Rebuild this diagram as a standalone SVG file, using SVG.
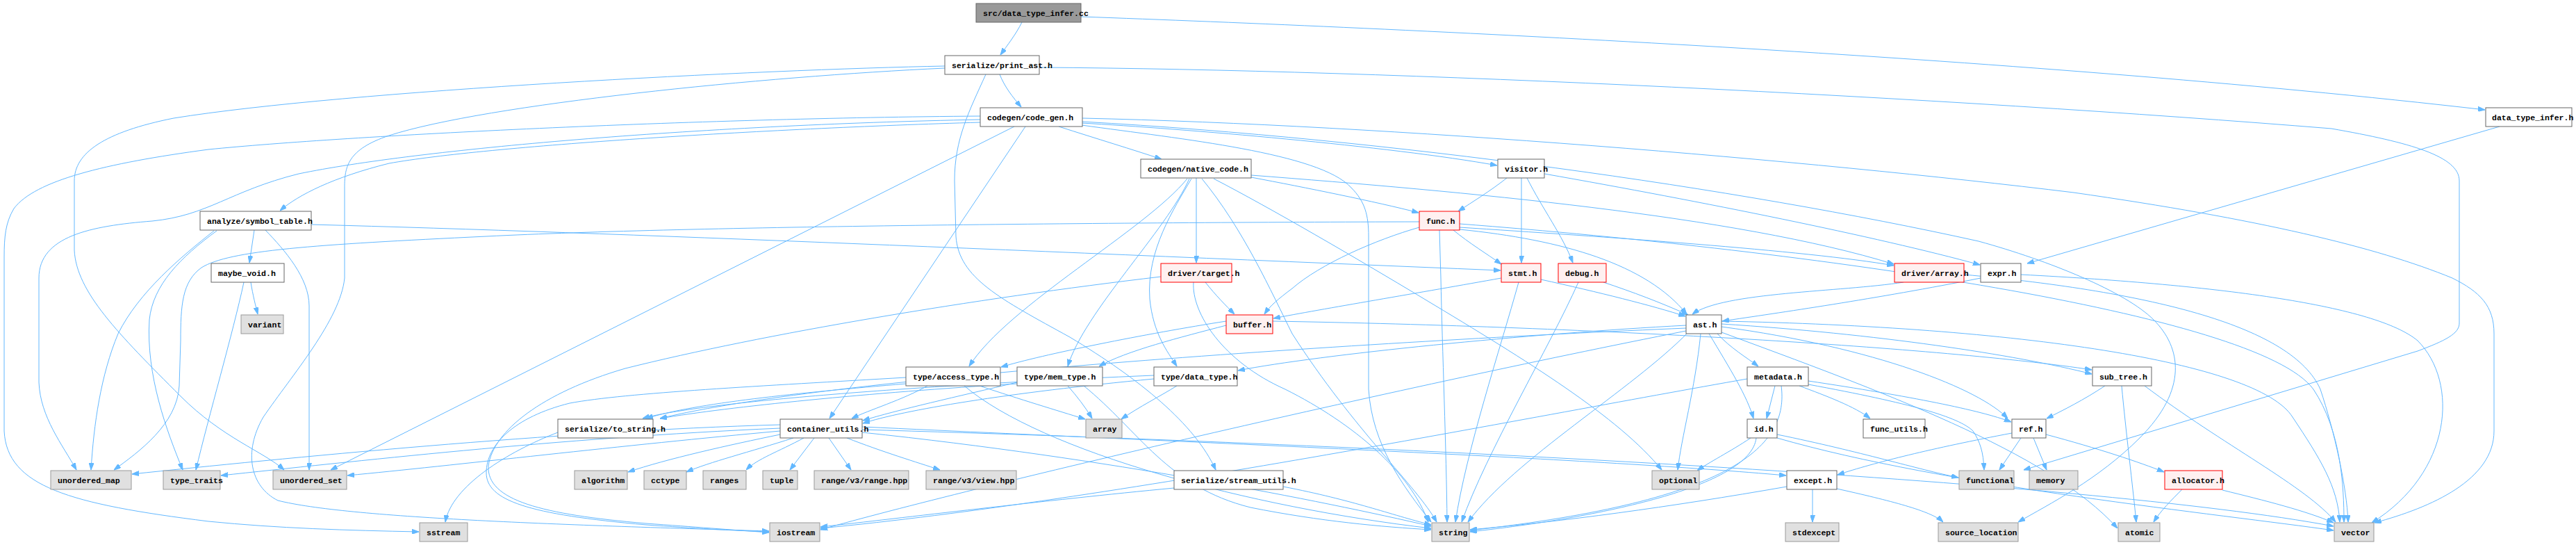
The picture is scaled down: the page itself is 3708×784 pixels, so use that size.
<svg xmlns="http://www.w3.org/2000/svg" width="3708" height="784" viewBox="0 0 3708 784">
<style>
.n rect{stroke-width:1}
.w rect{fill:#ffffff;stroke:#666666}
.g rect{fill:#e0e0e0;stroke:#999999}
.r rect{fill:#fff0f0;stroke:#ff0000}
.root rect{fill:#999999;stroke:#666666}
.n text{font-family:"Liberation Mono","DejaVu Sans Mono",monospace;font-size:11.5px;font-weight:bold;fill:#000000}
.e path{fill:none;stroke:#63b8ff;stroke-width:1;marker-end:url(#ah)}
</style>
<defs>
<marker id="ah" viewBox="0 0 10 7" markerWidth="10" markerHeight="7" refX="10" refY="3.5" orient="auto" markerUnits="userSpaceOnUse">
<path d="M0,0 L10,3.5 L0,7 Z" fill="#63b8ff" stroke="#63b8ff" stroke-width="1"/>
</marker>
</defs>
<rect width="3708" height="784" fill="#ffffff"/>
<g id="edges" class="e">
<path d="M1471,32 C1462,50 1450,65 1440,79"/>
<path d="M1556,24 C2000,40 2900,80 3577,158"/>
<path d="M1439,107 C1446,125 1458,140 1470,154"/>
<path d="M1360,95 C1100,100 500,130 250,170 C150,190 107,220 107,260 L107,360 C110,420 170,480 260,570 C320,630 380,650 409,676"/>
<path d="M1360,98 C1100,110 700,150 560,195 C500,215 496,240 496,270 L496,400 C490,460 420,540 379,600 C350,650 360,700 400,720 C500,745 800,755 1107,764"/>
<path d="M1419,107 C1395,160 1374,200 1374,260 L1376,340 C1380,400 1440,430 1540,485 C1640,545 1720,610 1750,676"/>
<path d="M1496,97 C2000,100 2800,140 3356,185 C3470,205 3540,225 3540,260 L3540,465 C3540,480 3520,490 3480,505 L2913,676"/>
<path d="M1524,182 C1580,200 1630,215 1672,229"/>
<path d="M1411,176 C1100,185 700,210 560,235 C480,255 430,280 403,303"/>
<path d="M1411,172 C1000,180 600,215 430,250 C330,275 300,310 219,318 C130,325 56,340 56,400 L56,550 C58,600 90,640 110,676"/>
<path d="M1411,167 C1000,170 500,195 300,215 C150,235 50,260 20,300 C8,320 6,340 6,370 L6,620 C10,700 100,725 300,750 C400,760 500,763 603,765"/>
<path d="M1460,182 L476,676"/>
<path d="M1476,182 L1194,602"/>
<path d="M1557,177 C1700,185 2000,210 2155,238"/>
<path d="M1558,170 C2000,180 2600,230 2985,277 C3250,315 3420,355 3530,400 C3570,420 3590,440 3590,480 L3590,620 C3590,690 3500,730 3418,752"/>
<path d="M1557,180 C1700,200 1900,220 1945,270 C1965,290 1970,310 1970,340 L1970,560 C1975,640 2020,700 2060,751"/>
<path d="M1558,175 C2000,200 2500,270 2848,347 C2950,375 3060,420 3100,460 C3140,500 3150,560 3080,630 C3020,690 2950,725 2905,751"/>
<path d="M1722,256 L1722,378"/>
<path d="M1709,257 C1650,330 1450,440 1395,527"/>
<path d="M1712,257 C1680,330 1560,450 1537,527"/>
<path d="M1715,257 C1690,300 1650,360 1655,430 C1660,480 1680,505 1694,527"/>
<path d="M1801,255 C1880,270 1980,290 2042,306"/>
<path d="M1801,252 C2100,275 2500,310 2726,380"/>
<path d="M1747,257 C1830,300 1950,370 2050,430 C2200,520 2330,600 2392,676"/>
<path d="M1730,257 C1790,330 1830,420 1860,480 C1950,620 2040,700 2068,751"/>
<path d="M2169,256 C2145,275 2120,290 2099,304"/>
<path d="M2190,256 L2190,378"/>
<path d="M2198,256 C2220,300 2250,340 2264,378"/>
<path d="M2223,250 C2450,290 2700,340 2850,381"/>
<path d="M366,331 L359,378"/>
<path d="M308,332 C260,370 200,420 170,480 C145,540 135,610 131,676"/>
<path d="M312,332 C260,370 220,410 215,460 C210,540 240,620 263,676"/>
<path d="M382,331 C410,360 445,400 445,440 L445,676"/>
<path d="M448,323 C900,335 1500,362 2160,389"/>
<path d="M2043,319 C1600,320 1000,325 700,340 C450,352 330,360 290,385 C262,405 260,440 260,490 L258,555 C255,610 200,650 164,676"/>
<path d="M2092,331 C2115,350 2140,365 2161,380"/>
<path d="M2043,327 C1980,345 1900,380 1860,415 C1840,430 1828,440 1820,452"/>
<path d="M2072,331 L2074,400 C2076,500 2082,650 2083,751"/>
<path d="M2101,327 C2300,340 2600,360 2726,382"/>
<path d="M2101,330 C2250,345 2370,380 2428,452"/>
<path d="M2101,322 C2600,360 3250,450 3330,560 C3370,620 3374,700 3374,751"/>
<path d="M361,406 C364,425 368,440 371,452"/>
<path d="M351,406 C335,480 300,600 282,676"/>
<path d="M1735,406 C1750,425 1765,440 1777,452"/>
<path d="M1671,398 C1400,430 1100,480 900,530 C780,565 710,620 703,670 C700,720 780,740 930,753 C1000,758 1050,762 1107,766"/>
<path d="M1718,406 C1715,450 1760,520 1850,560 C1950,610 2030,680 2056,751"/>
<path d="M2161,400 C2050,420 1900,445 1833,458"/>
<path d="M2218,402 C2300,420 2380,440 2426,455"/>
<path d="M2186,406 C2160,500 2110,650 2095,751"/>
<path d="M2308,406 C2350,420 2390,435 2430,453"/>
<path d="M2272,406 C2230,500 2140,650 2104,751"/>
<path d="M2740,406 C2650,420 2480,420 2436,452"/>
<path d="M2827,395 C3100,420 3300,470 3340,560 C3360,620 3378,700 3380,751"/>
<path d="M2851,400 C2700,430 2560,450 2479,462"/>
<path d="M2909,395 C3200,410 3420,440 3480,490 C3540,550 3530,680 3414,752"/>
<path d="M3598,182 L2918,379"/>
<path d="M1765,462 C1650,480 1500,510 1441,528"/>
<path d="M1765,468 C1700,485 1620,505 1582,527"/>
<path d="M1832,462 C2300,470 2800,500 3011,532"/>
<path d="M2472,480 C2490,500 2515,515 2531,527"/>
<path d="M2460,480 C2490,530 2515,570 2524,602"/>
<path d="M2448,480 C2440,560 2420,630 2415,676"/>
<path d="M2430,478 C2350,560 2180,660 2113,751"/>
<path d="M2427,468 C2200,480 1900,510 1782,533"/>
<path d="M2427,472 C2000,490 1200,540 950,602"/>
<path d="M2478,470 C2700,500 2850,560 2890,602"/>
<path d="M2478,466 C2700,480 2900,510 3011,538"/>
<path d="M2478,462 C2900,470 3250,520 3300,600 C3340,660 3365,700 3368,751"/>
<path d="M2478,478 C2700,560 2950,650 3048,760"/>
<path d="M2427,476 C2000,560 1400,700 1181,762"/>
<path d="M1335,555 C1300,575 1250,590 1226,602"/>
<path d="M1410,555 C1470,575 1520,590 1562,603"/>
<path d="M1304,552 C1150,565 1000,580 930,602"/>
<path d="M1388,555 C1500,650 1800,730 2060,760"/>
<path d="M1304,543 C1100,555 900,565 820,580 C740,600 700,640 700,680 C700,720 760,740 930,755 C1000,760 1050,763 1107,765"/>
<path d="M1537,555 C1550,570 1562,585 1572,602"/>
<path d="M1464,550 C1380,570 1290,590 1242,605"/>
<path d="M1464,552 C1250,565 1050,585 950,602"/>
<path d="M1560,555 C1640,620 1680,700 1800,730 C1900,750 1990,758 2060,762"/>
<path d="M1694,555 C1670,570 1640,585 1614,603"/>
<path d="M1661,545 C1450,565 1300,590 1242,609"/>
<path d="M1661,540 C1300,555 1000,580 925,602"/>
<path d="M2555,555 L2543,602"/>
<path d="M2590,555 C2630,570 2670,585 2692,602"/>
<path d="M2564,555 C2575,640 2500,720 2116,763"/>
<path d="M2515,545 C2200,600 1600,720 1181,760"/>
<path d="M2603,548 C2750,570 2850,590 2895,607"/>
<path d="M2603,553 C2750,580 2820,600 2840,620 C2850,635 2855,650 2856,676"/>
<path d="M3030,555 C3000,575 2970,590 2946,602"/>
<path d="M3054,555 C3060,620 3070,700 3075,751"/>
<path d="M3087,555 C3200,640 3320,700 3362,751"/>
<path d="M803,622 C730,650 650,700 641,751"/>
<path d="M1123,625 C1050,640 960,660 904,679"/>
<path d="M1142,630 C1080,650 1020,665 988,679"/>
<path d="M1157,630 C1120,650 1090,660 1074,676"/>
<path d="M1172,630 L1137,676"/>
<path d="M1193,630 L1225,676"/>
<path d="M1219,630 C1270,650 1320,665 1353,676"/>
<path d="M1123,611 C800,620 400,660 190,682"/>
<path d="M1123,616 C800,630 500,665 318,684"/>
<path d="M1123,620 C900,640 650,670 500,684"/>
<path d="M1241,622 C1600,660 1900,720 2060,757"/>
<path d="M1241,618 C2000,640 3000,690 3359,757"/>
<path d="M1241,614 C1800,640 2300,660 2571,684"/>
<path d="M2520,630 C2490,650 2460,665 2443,677"/>
<path d="M2528,630 C2520,700 2300,745 2116,765"/>
<path d="M2558,625 C2680,650 2760,675 2819,687"/>
<path d="M2558,630 C2800,700 3200,740 3359,763"/>
<path d="M2927,630 L2946,676"/>
<path d="M2909,630 L2878,676"/>
<path d="M2945,625 C3020,645 3080,665 3115,679"/>
<path d="M2896,623 C2780,645 2700,665 2645,683"/>
<path d="M2609,704 L2609,751"/>
<path d="M2644,703 C2720,720 2780,735 2797,751"/>
<path d="M2572,700 C2400,730 2250,750 2116,762"/>
<path d="M3141,704 C3125,720 3110,735 3100,751"/>
<path d="M3199,705 C3260,720 3320,735 3359,752"/>
<path d="M1690,702 C1500,720 1300,745 1181,758"/>
<path d="M1847,700 C1950,720 2000,740 2060,755"/>
</g>
<g id="n0" class="n root"><rect x="1405" y="5" width="151" height="27"/><text x="1415" y="23">src/data_type_infer.cc</text></g>
<g id="n1" class="n w"><rect x="1360" y="80" width="136" height="27"/><text x="1370" y="98">serialize/print_ast.h</text></g>
<g id="n2" class="n w"><rect x="1411" y="155" width="147" height="27"/><text x="1421" y="173">codegen/code_gen.h</text></g>
<g id="n3" class="n w"><rect x="3578" y="155" width="124" height="27"/><text x="3587" y="173">data_type_infer.h</text></g>
<g id="n4" class="n w"><rect x="1642" y="229" width="159" height="27"/><text x="1652" y="247">codegen/native_code.h</text></g>
<g id="n5" class="n w"><rect x="2156" y="229" width="67" height="27"/><text x="2166" y="247">visitor.h</text></g>
<g id="n6" class="n w"><rect x="288" y="304" width="160" height="27"/><text x="298" y="322">analyze/symbol_table.h</text></g>
<g id="n7" class="n r"><rect x="2043" y="304" width="58" height="27"/><text x="2053" y="322">func.h</text></g>
<g id="n8" class="n w"><rect x="304" y="379" width="105" height="27"/><text x="314" y="397">maybe_void.h</text></g>
<g id="n9" class="n r"><rect x="1671" y="379" width="102" height="27"/><text x="1681" y="397">driver/target.h</text></g>
<g id="n10" class="n r"><rect x="2161" y="379" width="57" height="27"/><text x="2171" y="397">stmt.h</text></g>
<g id="n11" class="n r"><rect x="2243" y="379" width="69" height="27"/><text x="2253" y="397">debug.h</text></g>
<g id="n12" class="n r"><rect x="2727" y="379" width="100" height="27"/><text x="2737" y="397">driver/array.h</text></g>
<g id="n13" class="n w"><rect x="2851" y="379" width="58" height="27"/><text x="2861" y="397">expr.h</text></g>
<g id="n14" class="n g"><rect x="347" y="453" width="61" height="27"/><text x="357" y="471">variant</text></g>
<g id="n15" class="n r"><rect x="1765" y="453" width="67" height="27"/><text x="1775" y="471">buffer.h</text></g>
<g id="n16" class="n w"><rect x="2427" y="453" width="51" height="27"/><text x="2437" y="471">ast.h</text></g>
<g id="n17" class="n w"><rect x="1304" y="528" width="136" height="27"/><text x="1314" y="546">type/access_type.h</text></g>
<g id="n18" class="n w"><rect x="1464" y="528" width="123" height="27"/><text x="1474" y="546">type/mem_type.h</text></g>
<g id="n19" class="n w"><rect x="1661" y="528" width="120" height="27"/><text x="1671" y="546">type/data_type.h</text></g>
<g id="n20" class="n w"><rect x="2515" y="528" width="88" height="27"/><text x="2525" y="546">metadata.h</text></g>
<g id="n21" class="n w"><rect x="3012" y="528" width="85" height="27"/><text x="3022" y="546">sub_tree.h</text></g>
<g id="n22" class="n w"><rect x="803" y="603" width="137" height="27"/><text x="813" y="621">serialize/to_string.h</text></g>
<g id="n23" class="n w"><rect x="1123" y="603" width="118" height="27"/><text x="1133" y="621">container_utils.h</text></g>
<g id="n24" class="n g"><rect x="1563" y="603" width="52" height="27"/><text x="1573" y="621">array</text></g>
<g id="n25" class="n w"><rect x="2515" y="603" width="43" height="27"/><text x="2525" y="621">id.h</text></g>
<g id="n26" class="n w"><rect x="2682" y="603" width="89" height="27"/><text x="2692" y="621">func_utils.h</text></g>
<g id="n27" class="n w"><rect x="2896" y="603" width="49" height="27"/><text x="2906" y="621">ref.h</text></g>
<g id="n28" class="n g"><rect x="73" y="677" width="116" height="27"/><text x="83" y="695">unordered_map</text></g>
<g id="n29" class="n g"><rect x="235" y="677" width="82" height="27"/><text x="245" y="695">type_traits</text></g>
<g id="n30" class="n g"><rect x="393" y="677" width="106" height="27"/><text x="403" y="695">unordered_set</text></g>
<g id="n31" class="n g"><rect x="827" y="677" width="76" height="27"/><text x="837" y="695">algorithm</text></g>
<g id="n32" class="n g"><rect x="927" y="677" width="61" height="27"/><text x="937" y="695">cctype</text></g>
<g id="n33" class="n g"><rect x="1012" y="677" width="62" height="27"/><text x="1022" y="695">ranges</text></g>
<g id="n34" class="n g"><rect x="1098" y="677" width="50" height="27"/><text x="1108" y="695">tuple</text></g>
<g id="n35" class="n g"><rect x="1172" y="677" width="136" height="27"/><text x="1182" y="695">range/v3/range.hpp</text></g>
<g id="n36" class="n g"><rect x="1333" y="677" width="130" height="27"/><text x="1343" y="695">range/v3/view.hpp</text></g>
<g id="n37" class="n w"><rect x="1690" y="677" width="157" height="27"/><text x="1700" y="695">serialize/stream_utils.h</text></g>
<g id="n38" class="n g"><rect x="2378" y="677" width="68" height="27"/><text x="2388" y="695">optional</text></g>
<g id="n39" class="n w"><rect x="2572" y="677" width="72" height="27"/><text x="2582" y="695">except.h</text></g>
<g id="n40" class="n g"><rect x="2820" y="677" width="79" height="27"/><text x="2830" y="695">functional</text></g>
<g id="n41" class="n g"><rect x="2921" y="677" width="70" height="27"/><text x="2931" y="695">memory</text></g>
<g id="n42" class="n r"><rect x="3116" y="677" width="83" height="27"/><text x="3126" y="695">allocator.h</text></g>
<g id="n43" class="n g"><rect x="604" y="752" width="69" height="27"/><text x="614" y="770">sstream</text></g>
<g id="n44" class="n g"><rect x="1108" y="752" width="72" height="27"/><text x="1118" y="770">iostream</text></g>
<g id="n45" class="n g"><rect x="2061" y="752" width="54" height="27"/><text x="2071" y="770">string</text></g>
<g id="n46" class="n g"><rect x="2570" y="752" width="77" height="27"/><text x="2580" y="770">stdexcept</text></g>
<g id="n47" class="n g"><rect x="2790" y="752" width="115" height="27"/><text x="2800" y="770">source_location</text></g>
<g id="n48" class="n g"><rect x="3049" y="752" width="60" height="27"/><text x="3059" y="770">atomic</text></g>
<g id="n49" class="n g"><rect x="3360" y="752" width="57" height="27"/><text x="3370" y="770">vector</text></g>
</svg>
